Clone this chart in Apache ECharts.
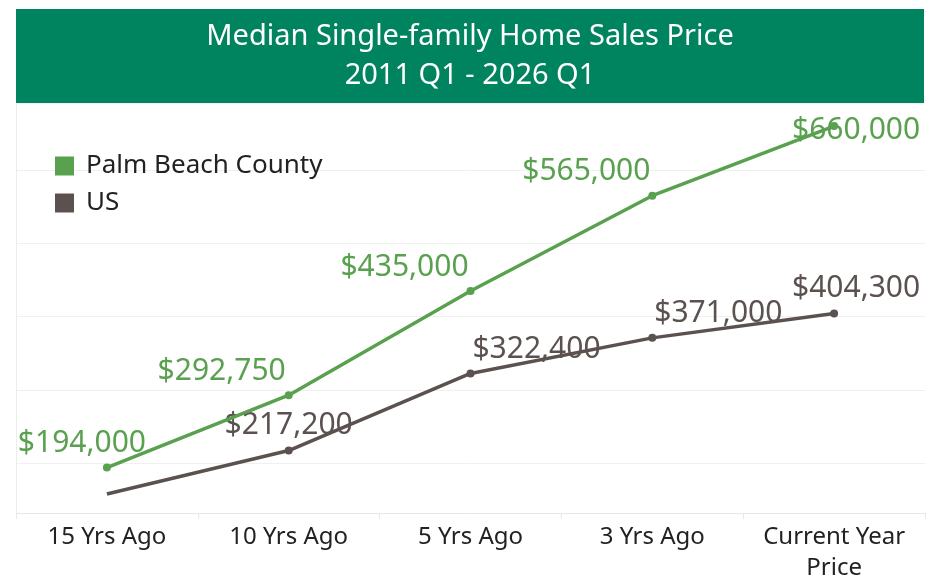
<!DOCTYPE html>
<html>
<head>
<meta charset="utf-8">
<script src="https://cdn.jsdelivr.net/npm/echarts@6/dist/echarts.min.js"></script>
<style>
  html, body { margin: 0; padding: 0; background: #fff; }
  #chart { width: 945px; height: 584px; }
</style>
</head>
<body>
<div id="chart"></div>
<script>
// chart data
const categories = ["15 Yrs Ago", "10 Yrs Ago", "5 Yrs Ago", "3 Yrs Ago", "Current Year\nPrice"];
const palmBeach = [194000, 292750, 435000, 565000, 660000];
const usPrices = [158000, 217200, 322400, 371000, 404300];
const seriesNames = ["Palm Beach County", "US"];
const titleLines = ["Median Single-family Home Sales Price", "2011 Q1 - 2026 Q1"];

// where each value label sits relative to its point
const palmOffsets = [[-25, -24], [-67, -24], [-66, -24], [-66, -24], [22, 4]];
const usOffsets = [[0, -24], [0, -25], [66, -24], [66, -24], [22, -25]];
const usHideFirst = true; // first US point has no label/dot in the original

const green = "#59a14f";
const brown = "#5b5250";
const font = "Noto Sans";

function money(v) {
  return "$" + v.toLocaleString("en-US");
}

function buildData(values, offsets, color, hideFirst) {
  return values.map((v, i) => {
    const hidden = hideFirst && i === 0;
    return {
      value: v,
      symbolSize: hidden ? 0 : 8,
      label: {
        show: !hidden,
        position: "inside",
        offset: offsets[i],
        color: color,
        fontFamily: font,
        fontSize: 30,
        formatter: (p) => money(p.value),
      },
    };
  });
}

const chart = echarts.init(document.getElementById("chart"));
chart.setOption({
  animation: false,
  backgroundColor: "#fff",
  graphic: [
    {
      type: "rect",
      shape: { x: 16, y: 9, width: 908, height: 94 },
      style: { fill: "#00835f" },
      z: 10,
    },
    {
      type: "text",
      x: 470, y: 37,
      style: { text: titleLines[0], fill: "#fff", font: "29px 'Noto Sans'", textAlign: "center", textVerticalAlign: "middle" },
      z: 11,
    },
    {
      type: "text",
      x: 470, y: 76,
      style: { text: titleLines[1], fill: "#fff", font: "29px 'Noto Sans'", textAlign: "center", textVerticalAlign: "middle" },
      z: 11,
    },
  ],
  legend: {
    data: seriesNames,
    orient: "vertical",
    left: 50,
    top: 148,
    icon: "rect",
    itemWidth: 19,
    itemHeight: 19,
    itemGap: 11,
    textStyle: { fontFamily: font, fontSize: 26, color: "#222", lineHeight: 22, padding: [0, 0, 0, 7] },
  },
  grid: {
    left: 16,
    right: 20,
    top: 103,
    bottom: 67,
    containLabel: false,
  },
  xAxis: {
    type: "category",
    data: categories,
    boundaryGap: true,
    axisLine: { lineStyle: { color: "#e8e8e8", width: 1 } },
    axisTick: { show: true, length: 6, lineStyle: { color: "#e8e8e8" } },
    axisLabel: {
      interval: 0,
      margin: 9,
      color: "#222",
      fontFamily: font,
      fontSize: 24,
      lineHeight: 31,
      verticalAlign: "top",
    },
  },
  yAxis: {
    type: "value",
    min: 132000,
    max: 691500,
    splitNumber: 5,
    axisLine: { show: true, lineStyle: { color: "#ececec" } },
    axisTick: { show: false },
    axisLabel: { show: false },
    splitLine: { lineStyle: { color: "#f0f0f0", width: 1 } },
  },
  series: [
    {
      name: seriesNames[0],
      type: "line",
      color: green,
      symbol: "circle",
      lineStyle: { width: 3.5, color: green },
      itemStyle: { color: green },
      data: buildData(palmBeach, palmOffsets, green, false),
      z: 3,
    },
    {
      name: seriesNames[1],
      type: "line",
      color: brown,
      symbol: "circle",
      lineStyle: { width: 3.5, color: brown },
      itemStyle: { color: brown },
      data: buildData(usPrices, usOffsets, brown, usHideFirst),
      z: 2,
    },
  ],
});
</script>
</body>
</html>
